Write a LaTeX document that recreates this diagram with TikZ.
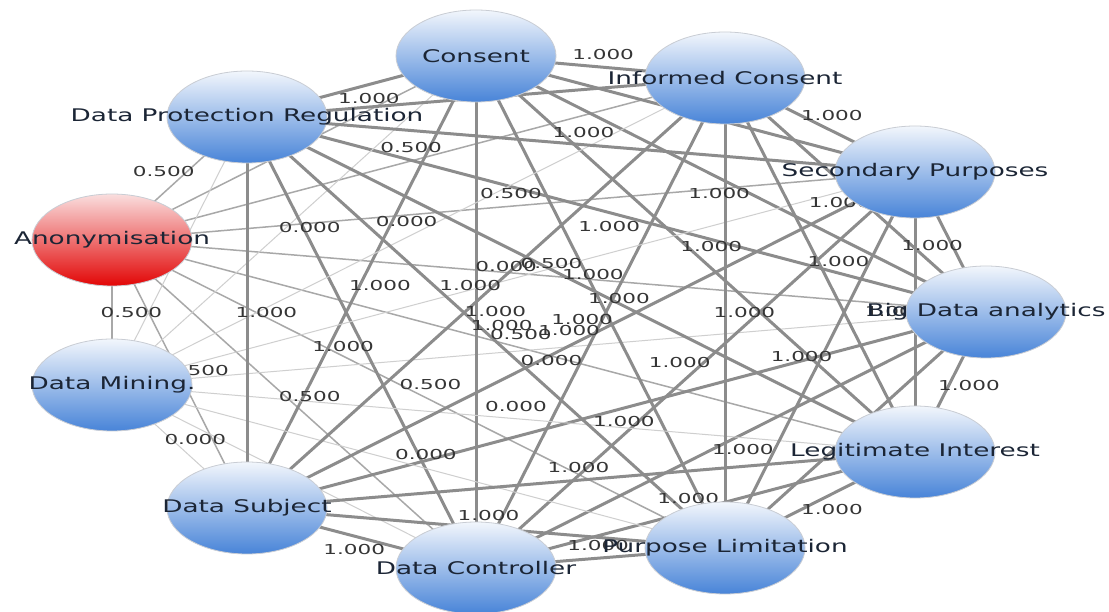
\documentclass[tikz,border=0pt]{standalone}
\usepackage{fontspec}
\setmainfont{DejaVu Sans}
\usepackage{graphicx}
\usetikzlibrary{shapes.geometric,calc}
\pgfdeclarelayer{edgelines}
\pgfdeclarelayer{edgetexts}
\pgfsetlayers{edgelines,edgetexts,main}
\definecolor{thickc}{HTML}{8C8C8C}
\definecolor{medc}{HTML}{A8A8A8}
\definecolor{thinc}{HTML}{CFCFCF}
\definecolor{bordc}{HTML}{C9CDD4}
\definecolor{ntextc}{HTML}{1B2535}
\definecolor{etextc}{HTML}{353535}
\definecolor{bluetop}{RGB}{242,246,252}
\definecolor{bluemid}{RGB}{163,194,236}
\definecolor{bluebot}{RGB}{72,132,216}
\definecolor{redtop}{RGB}{250,222,222}
\definecolor{redmid}{RGB}{242,72,72}
\definecolor{redbot}{RGB}{226,6,6}
\newcommand\nodetxt[1]{\scalebox{1.51}[1]{#1}}
\newcommand\edgetxt[1]{\scalebox{1.57}[1]{#1}}
\newcommand\drawlink[4]{%
  \begin{pgfonlayer}{edgelines}\draw[#3] (#1.center) -- (#2.center);\end{pgfonlayer}%
  \begin{pgfonlayer}{edgetexts}%
  \path let \p1=(#1.center), \p2=(#2.center),
    \n1={(\x2-\x1)/1.55}, \n2={\y2-\y1}, \n3={veclen(\n1,\n2)},
    \n4={0.5*(\x1+\x2)-19.375*\n2/\n3}, \n5={0.5*(\y1+\y2)+12.5*\n1/\n3}
    in node[etext] at (\n4,\n5) {\edgetxt{#4}};%
  \end{pgfonlayer}}
\begin{document}
\begin{tikzpicture}[x=1pt,y=-1pt,
  bubble/.style={ellipse, draw=bordc, line width=0.8pt, minimum width=160pt,
    minimum height=92pt, inner sep=0pt,
    top color=bluetop, middle color=bluemid, bottom color=bluebot},
  redbubble/.style={bubble, top color=redtop, middle color=redmid, bottom color=redbot},
  ntext/.style={text=ntextc, font=\fontsize{17.4}{20}\selectfont, inner sep=0pt},
  etext/.style={text=etextc, font=\fontsize{13.7}{16}\selectfont, inner sep=0pt},
  w1/.style={draw=thickc, line width=3pt},
  w5/.style={draw=medc, line width=1.5pt},
  w0/.style={draw=thinc, line width=1pt}]
\useasboundingbox (0,0) rectangle (1109,612);
\begin{pgfonlayer}{edgelines}\fill[white] (0,0) rectangle (1109,612);\end{pgfonlayer}
\clip (0,0) rectangle (1109,612);
% nodes
\node[redbubble, label={[ntext]center:\nodetxt{Anonymisation}}] (an) at (112,240) {};
\node[bubble, label={[ntext]center:\nodetxt{Big Data analytics}}] (bd) at (986,312) {};
\node[bubble, label={[ntext]center:\nodetxt{Consent}}] (co) at (476,56) {};
\node[bubble, label={[ntext]center:\nodetxt{Data Controller}}] (dc) at (476,568) {};
\node[bubble, label={[ntext]center:\nodetxt{Data Mining.}}] (dm) at (112,385) {};
\node[bubble, label={[ntext]center:\nodetxt{Data Protection Regulation}}] (dpr) at (247,117) {};
\node[bubble, label={[ntext]center:\nodetxt{Data Subject}}] (ds) at (247,508) {};
\node[bubble, label={[ntext]center:\nodetxt{Informed Consent}}] (ic) at (725,78) {};
\node[bubble, label={[ntext]center:\nodetxt{Legitimate Interest}}] (li) at (915,452) {};
\node[bubble, label={[ntext]center:\nodetxt{Purpose Limitation}}] (pl) at (725,548) {};
\node[bubble, label={[ntext]center:\nodetxt{Secondary Purposes}}] (sp) at (915,172) {};
% edges
\drawlink{an}{bd}{w5}{0.500}
\drawlink{an}{co}{w5}{0.500}
\drawlink{an}{dc}{w5}{0.500}
\drawlink{an}{dm}{w5}{0.500}
\drawlink{an}{dpr}{w5}{0.500}
\drawlink{an}{ds}{w5}{0.500}
\drawlink{an}{ic}{w5}{0.500}
\drawlink{an}{li}{w5}{0.500}
\drawlink{an}{pl}{w5}{0.500}
\drawlink{an}{sp}{w5}{0.500}
\drawlink{bd}{co}{w1}{1.000}
\drawlink{bd}{dc}{w1}{1.000}
\drawlink{bd}{dm}{w0}{0.000}
\drawlink{bd}{dpr}{w1}{1.000}
\drawlink{bd}{ds}{w1}{1.000}
\drawlink{bd}{ic}{w1}{1.000}
\drawlink{bd}{li}{w1}{1.000}
\drawlink{bd}{pl}{w1}{1.000}
\drawlink{bd}{sp}{w1}{1.000}
\drawlink{co}{dc}{w1}{1.000}
\drawlink{co}{dm}{w0}{0.000}
\drawlink{co}{dpr}{w1}{1.000}
\drawlink{co}{ds}{w1}{1.000}
\drawlink{co}{ic}{w1}{1.000}
\drawlink{co}{li}{w1}{1.000}
\drawlink{co}{pl}{w1}{1.000}
\drawlink{co}{sp}{w1}{1.000}
\drawlink{dc}{dm}{w0}{0.000}
\drawlink{dc}{dpr}{w1}{1.000}
\drawlink{dc}{ds}{w1}{1.000}
\drawlink{dc}{ic}{w1}{1.000}
\drawlink{dc}{li}{w1}{1.000}
\drawlink{dc}{pl}{w1}{1.000}
\drawlink{dc}{sp}{w1}{1.000}
\drawlink{dm}{dpr}{w0}{0.000}
\drawlink{dm}{ds}{w0}{0.000}
\drawlink{dm}{ic}{w0}{0.000}
\drawlink{dm}{li}{w0}{0.000}
\drawlink{dm}{pl}{w0}{0.000}
\drawlink{dm}{sp}{w0}{0.000}
\drawlink{dpr}{ds}{w1}{1.000}
\drawlink{dpr}{ic}{w1}{1.000}
\drawlink{dpr}{li}{w1}{1.000}
\drawlink{dpr}{pl}{w1}{1.000}
\drawlink{dpr}{sp}{w1}{1.000}
\drawlink{ds}{ic}{w1}{1.000}
\drawlink{ds}{li}{w1}{1.000}
\drawlink{ds}{pl}{w1}{1.000}
\drawlink{ds}{sp}{w1}{1.000}
\drawlink{ic}{li}{w1}{1.000}
\drawlink{ic}{pl}{w1}{1.000}
\drawlink{ic}{sp}{w1}{1.000}
\drawlink{li}{pl}{w1}{1.000}
\drawlink{li}{sp}{w1}{1.000}
\drawlink{pl}{sp}{w1}{1.000}
\end{tikzpicture}
\end{document}
